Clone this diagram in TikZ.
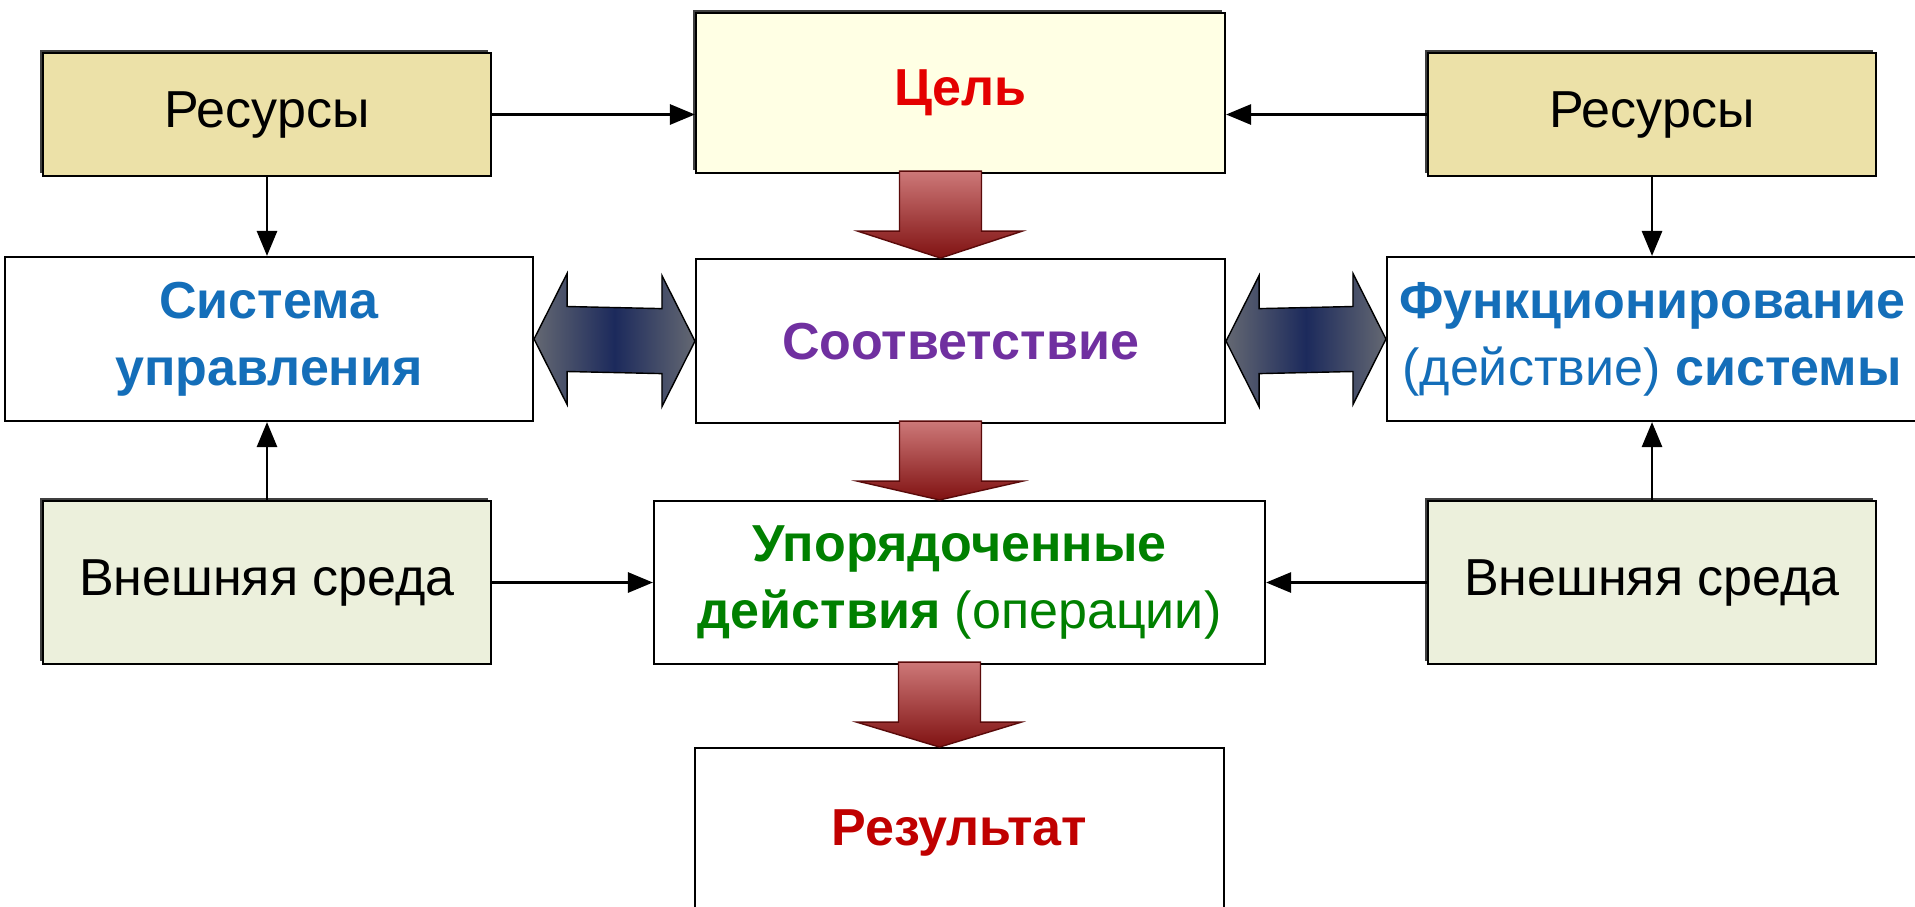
\documentclass[tikz,border=0pt]{standalone}
\usepackage{fontspec}
\setmainfont{Liberation Sans}
\usepackage{tikz}
\usetikzlibrary{shadows,arrows.meta,calc,positioning}
\definecolor{resfill}{RGB}{236,225,168}
\definecolor{envfill}{RGB}{236,240,220}
\definecolor{goalfill}{RGB}{255,255,228}
\definecolor{goalred}{RGB}{228,0,0}
\definecolor{resred}{RGB}{192,0,0}
\definecolor{sysblue}{RGB}{20,110,185}
\definecolor{matchpurple}{RGB}{112,48,160}
\definecolor{opgreen}{RGB}{0,128,0}
\tikzset{
  boxshadow/.style={
    general shadow={shadow xshift=-0.8pt, shadow yshift=0.8pt, fill=black!75}
  }
}

\begin{document}
\begin{tikzpicture}[
        block/.style={draw, rectangle, line width=0.6pt, fill=white, align=center, inner sep=0pt, font=\fontsize{14.8}{19}\selectfont},
        resbox/.style={block, fill=resfill, boxshadow, minimum width=4.48cm, minimum height=1.23cm},
        envbox/.style={block, fill=envfill, boxshadow, minimum width=4.48cm, minimum height=1.63cm},
        midbox/.style={block, minimum width=5.29cm, minimum height=1.64cm},
        link/.style={-{Triangle[length=0.25cm,width=0.2cm]}, line width=0.8pt},
        redfat/.style={draw={rgb,255:red,90;green,10;blue,10}, line width=0.4pt, top color={rgb,255:red,205;green,120;blue,120}, bottom color={rgb,255:red,128;green,18;blue,18}},
        bluefat/.style={draw=black, line width=0.4pt, left color={rgb,255:red,100;green,104;blue,114}, right color={rgb,255:red,100;green,104;blue,114}, middle color={rgb,255:red,28;green,42;blue,92}}
    ]
        \useasboundingbox (0,0) rectangle (19.15,-9.06);
        \fill[white] (0,0) rectangle (19.15,-9.06);
        \clip (0,0) rectangle (19.15,-9.06);

        % Top row: goal and resources
        \node[midbox, fill=goalfill, boxshadow, minimum height=1.60cm] (goal) at (9.605,-0.93) {\textbf{\color{goalred}Цель}};
        \node[resbox] (resL) at (2.67,-1.145) {Ресурсы};
        \node[resbox] (resR) at (16.52,-1.145) {Ресурсы};

        % Middle row
        \node[midbox, minimum width=5.28cm] (sys) at (2.69,-3.39) {\color{sysblue}\textbf{Система}\\\color{sysblue}\textbf{управления}};
        \node[midbox] (match) [below=0.84cm of goal] {\textbf{\color{matchpurple}Соответствие}};
        \node[midbox, minimum width=5.30cm] (func) at (16.52,-3.39) {\color{sysblue}\textbf{Функционирование}\\\color{sysblue}(действие) \textbf{системы}};

        % Lower row: environment and operations
        \node[envbox] (extL) at (2.67,-5.825) {Внешняя среда};
        \node[block, minimum width=6.11cm, minimum height=1.63cm] (upo) at (9.595,-5.825) {\color{opgreen}\textbf{Упорядоченные}\\\color{opgreen}\textbf{действия} (операции)};
        \node[envbox] (extR) at (16.52,-5.825) {Внешняя среда};

        % Result
        \node[midbox, minimum height=1.69cm] (res) [below=0.82cm of upo] {\textbf{\color{resred}Результат}};

        % Thin arrows
        \draw[link] (resL.east) -- (resL.east -| goal.west);
        \draw[link] (resR.west) -- (resR.west -| goal.east);
        \draw[link] (resL.south) -- (resL.south |- sys.north);
        \draw[link] (resR.south) -- (resR.south |- func.north);
        \draw[link] (extL.north) -- (extL.north |- sys.south);
        \draw[link] (extR.north) -- (extR.north |- func.south);
        \draw[link] (extL.east) -- (extL.east -| upo.west);
        \draw[link] (extR.west) -- (extR.west -| upo.east);

        % Block arrows down the middle
        \foreach \a/\b in {goal/match, match/upo, upo/res}
            \draw[redfat] ($(\a.south)+(-0.61,0.03)$) -- ++(0,-0.60) -- ++(-0.42,0) -- ($(\b.north)+(-0.2,0)$) -- ($(\a.south)+(0.62,-0.57)$) -- ++(-0.41,0) -- ++(0,0.60) -- cycle;

        % Double block arrows
        \foreach \a/\b in {sys/match, match/func}
            \draw[bluefat] (\a.east) -- ++(0.33,0.655) -- ++(0,-0.33) -- ($(\b.west)+(-0.33,0.325)$) -- ++(0,0.33) -- (\b.west) -- ++(-0.33,-0.655) -- ++(0,0.33) -- ($(\a.east)+(0.33,-0.325)$) -- ++(0,-0.33) -- cycle;
    \end{tikzpicture}
\end{document}
